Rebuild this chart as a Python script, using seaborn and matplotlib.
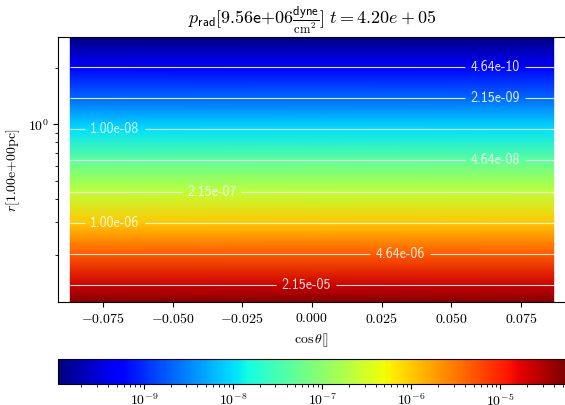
import numpy as np
import matplotlib
matplotlib.use("Agg")
import matplotlib.pyplot as plt
from matplotlib.colors import LogNorm
import seaborn as sns

# Polar grid (cos theta) and radial profile of the radiation pressure
cos_theta = np.array([-0.0867, 0.0867])
r_pc = np.array([0.1117, 0.1377, 0.2017, 0.298, 0.436, 0.644, 0.940, 1.377, 2.018, 2.92])
p_rad = np.array([5.4e-5, 2.15e-5, 4.64e-6, 1.0e-6, 2.15e-7, 4.64e-8,
                  1.0e-8, 2.15e-9, 4.64e-10, 1.1e-10])

# Iso-pressure contour levels
contour_levels = [4.64e-10, 2.15e-9, 1.0e-8, 4.64e-8, 2.15e-7, 1.0e-6, 4.64e-6, 2.15e-5]

title_text = (r"$p_{\mathsf{rad}}[\mathsf{9.56e{+}06}\frac{\mathsf{dyne}}{\mathrm{cm}^2}]"
              r"\ t = 4.20e + 05$")
xlabel_text = r"$\cos\theta$[]"
ylabel_text = r"$r$[1.00e+00pc]"

sns.set_style("ticks")
plt.rcParams.update({
    "font.family": ["cmr10"],
    "mathtext.fontset": "cm",
    "axes.formatter.use_mathtext": True,
    "axes.unicode_minus": True,
    "font.size": 10,
    "axes.edgecolor": "black",
    "axes.linewidth": 0.8,
    "xtick.color": "black",
    "ytick.color": "black",
    "text.color": "black",
    "axes.labelcolor": "black",
    "xtick.major.size": 3.5,
    "ytick.major.size": 3.5,
    "xtick.minor.size": 2,
    "ytick.minor.size": 2,
    "xtick.major.width": 0.8,
    "ytick.major.width": 0.8,
    "xtick.minor.width": 0.6,
    "ytick.minor.width": 0.6,
    "xtick.labelsize": 10,
    "ytick.labelsize": 10,
    "axes.labelsize": 10,
})

W, H = 565, 405
fig = plt.figure(figsize=(W / 100, H / 100), dpi=100)
ax = fig.add_axes([58.3 / W, 1 - 302.3 / H, 507.4 / W, (302.3 - 37.3) / H])
cax = fig.add_axes([58.3 / W, 1 - 384.3 / H, 507.4 / W, (384.3 - 359.0) / H])

cmap = matplotlib.colormaps["jet"]
X, Y = np.meshgrid(cos_theta, r_pc)
P = np.tile(p_rad[:, None], (1, cos_theta.size))

norm = LogNorm(vmin=p_rad.min(), vmax=p_rad.max())
mesh = ax.pcolormesh(X, Y, P, cmap=cmap, norm=norm, shading="gouraud")
ax.set_yscale("log")
ax.set_xlim(-0.091, 0.091)
ax.set_ylim(r_pc.min(), r_pc.max())

cs = ax.contour(X, Y, P, levels=contour_levels, colors="white", linewidths=0.8, alpha=0.9)
label_spots = [(0.0656, 2.018), (0.0656, 1.377), (-0.0707, 0.940), (0.0656, 0.644),
               (-0.036, 0.436), (-0.0707, 0.298), (0.0316, 0.2017), (-0.0022, 0.1377)]
with plt.rc_context({"font.family": ["cmss10"]}):
    ax.clabel(cs, fmt=lambda v: f"{v:.2e}", fontsize=10, inline=True,
              inline_spacing=5, manual=label_spots)

ax.set_xlabel(xlabel_text)
ax.set_ylabel(ylabel_text)
ax.set_title(title_text, fontsize=13, pad=9.6)

cb = fig.colorbar(mesh, cax=cax, orientation="horizontal")
cb.outline.set_linewidth(0.8)
cax.tick_params(axis="x", which="both", pad=2.5)

fig.savefig("out.png", dpi=100)
